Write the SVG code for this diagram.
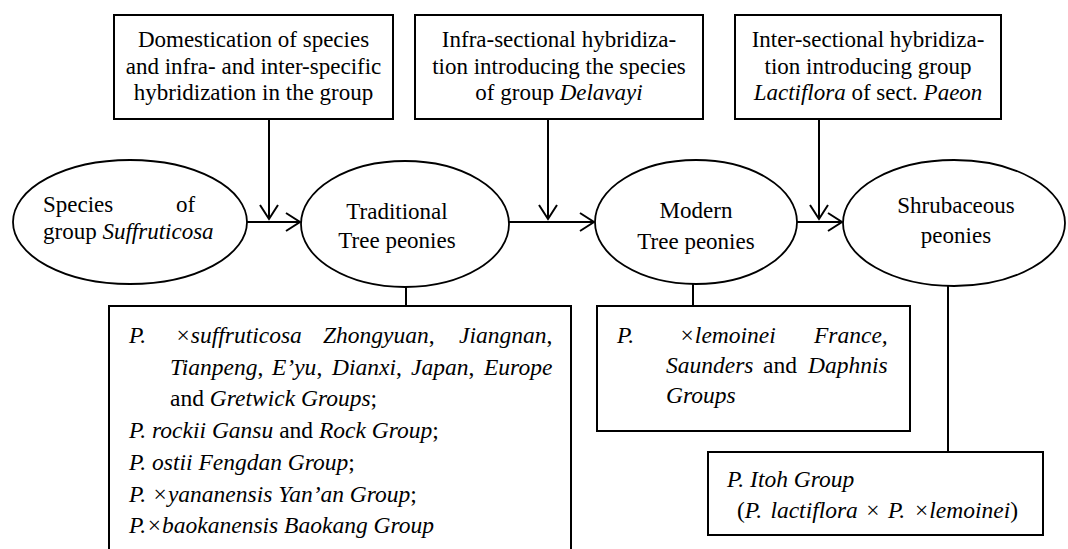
<svg xmlns="http://www.w3.org/2000/svg" width="1068" height="549" viewBox="0 0 1068 549">
<defs>
<style>
text{font-size:23px;fill:#000}
.c{text-anchor:middle}
.i{font-style:italic}
.lst text{font-size:23.5px}
.box{fill:#fff;stroke:#000;stroke-width:2}
.ell{fill:#fff;stroke:#000;stroke-width:1.8}
.ln{fill:none;stroke:#000;stroke-width:2}
</style>
<marker id="ah" viewBox="0 0 17 20" refX="15" refY="10" markerWidth="17" markerHeight="20" markerUnits="userSpaceOnUse" orient="auto">
<path d="M1,1 L15,10 L1,19" fill="none" stroke="#000" stroke-width="2"/>
</marker>
</defs>
<rect width="1068" height="549" fill="#fff"/>
<g id="connectors">
<line class="ln" x1="247" y1="222" x2="300" y2="222" marker-end="url(#ah)"/>
<line class="ln" x1="509" y1="222" x2="594" y2="222" marker-end="url(#ah)"/>
<line class="ln" x1="797" y1="222" x2="842" y2="222" marker-end="url(#ah)"/>
<line class="ln" x1="269" y1="119" x2="269" y2="219" marker-end="url(#ah)"/>
<line class="ln" x1="548" y1="119" x2="548" y2="219" marker-end="url(#ah)"/>
<line class="ln" x1="819" y1="119" x2="819" y2="219" marker-end="url(#ah)"/>
<line class="ln" x1="406" y1="287" x2="406" y2="306"/>
<line class="ln" x1="693" y1="284" x2="693" y2="306"/>
<line class="ln" x1="948" y1="286" x2="948" y2="452"/>
</g>
<g font-family="Liberation Serif, Times New Roman, Tinos, DejaVu Serif, serif">
<g id="box-domestication">
<rect class="box" x="114" y="15" width="279" height="104"/>
<text class="c" x="253.5" y="47">Domestication of species</text>
<text class="c" x="253.5" y="74">and infra- and inter-specific</text>
<text class="c" x="253.5" y="100">hybridization in the group</text>
</g>
<g id="box-infra">
<rect class="box" x="415" y="15" width="288" height="104"/>
<text class="c" x="559" y="47">Infra-sectional hybridiza-</text>
<text class="c" x="559" y="74">tion introducing the species</text>
<text class="c" x="559" y="100">of group <tspan class="i">Delavayi</tspan></text>
</g>
<g id="box-inter">
<rect class="box" x="735" y="15" width="266" height="104"/>
<text class="c" x="868" y="47">Inter-sectional hybridiza-</text>
<text class="c" x="868" y="74">tion introducing group</text>
<text class="c" x="868" y="100"><tspan class="i">Lactiflora</tspan> of sect. <tspan class="i">Paeon</tspan></text>
</g>
<g id="node-species">
<ellipse class="ell" cx="130" cy="222" rx="117" ry="62"/>
<text x="43" y="212">Species</text>
<text x="176" y="212">of</text>
<text x="43" y="239">group <tspan class="i">Suffruticosa</tspan></text>
</g>
<g id="node-traditional">
<ellipse class="ell" cx="405" cy="224" rx="104" ry="63"/>
<text class="c" x="397" y="219" font-size="24">Traditional</text>
<text class="c" x="397" y="248" font-size="24">Tree peonies</text>
</g>
<g id="node-modern">
<ellipse class="ell" cx="696" cy="222" rx="101" ry="62"/>
<text class="c" x="696" y="218">Modern</text>
<text class="c" x="696" y="249">Tree peonies</text>
</g>
<g id="node-shrubaceous">
<ellipse class="ell" cx="954" cy="223" rx="111" ry="63"/>
<text class="c" x="956" y="213">Shrubaceous</text>
<text class="c" x="956" y="243">peonies</text>
</g>
<g id="list-traditional" class="lst">
<rect class="box" x="109" y="306" width="462" height="260"/>
<text class="i" y="343"><tspan x="129">P.</tspan><tspan x="175">×suffruticosa</tspan><tspan x="323">Zhongyuan</tspan><tspan font-style="normal">,</tspan><tspan x="459">Jiangnan</tspan><tspan font-style="normal">,</tspan></text>
<text class="i" y="375"><tspan x="170">Tianpeng</tspan><tspan font-style="normal">,</tspan><tspan x="272">E’yu</tspan><tspan font-style="normal">,</tspan><tspan x="332">Dianxi</tspan><tspan font-style="normal">,</tspan><tspan x="411">Japan</tspan><tspan font-style="normal">,</tspan><tspan x="484">Europe</tspan></text>
<text x="170" y="406">and <tspan class="i">Gretwick Groups</tspan>;</text>
<text x="129" y="438"><tspan class="i">P. rockii Gansu</tspan> and <tspan class="i">Rock Group</tspan>;</text>
<text x="129" y="470"><tspan class="i">P. ostii Fengdan Group</tspan>;</text>
<text x="129" y="502"><tspan class="i">P. ×yananensis Yan’an Group</tspan>;</text>
<text x="129" y="533"><tspan class="i">P.×baokanensis Baokang Group</tspan></text>
</g>
<g id="list-modern" class="lst">
<rect class="box" x="597" y="306" width="313" height="125"/>
<text class="i" y="343"><tspan x="617">P.</tspan><tspan x="679">×lemoinei</tspan><tspan x="814">France,</tspan></text>
<text y="373"><tspan class="i" x="666">Saunders</tspan><tspan x="763">and</tspan><tspan class="i" x="808">Daphnis</tspan></text>
<text class="i" x="666" y="403">Groups</text>
</g>
<g id="list-itoh" class="lst">
<rect class="box" x="708" y="452" width="335" height="83"/>
<text class="i" x="727" y="487">P. Itoh Group</text>
<text x="737" y="518" word-spacing="2.5">(<tspan class="i">P. lactiflora</tspan> × <tspan class="i">P. ×lemoinei</tspan>)</text>
</g>
</g>
</svg>
